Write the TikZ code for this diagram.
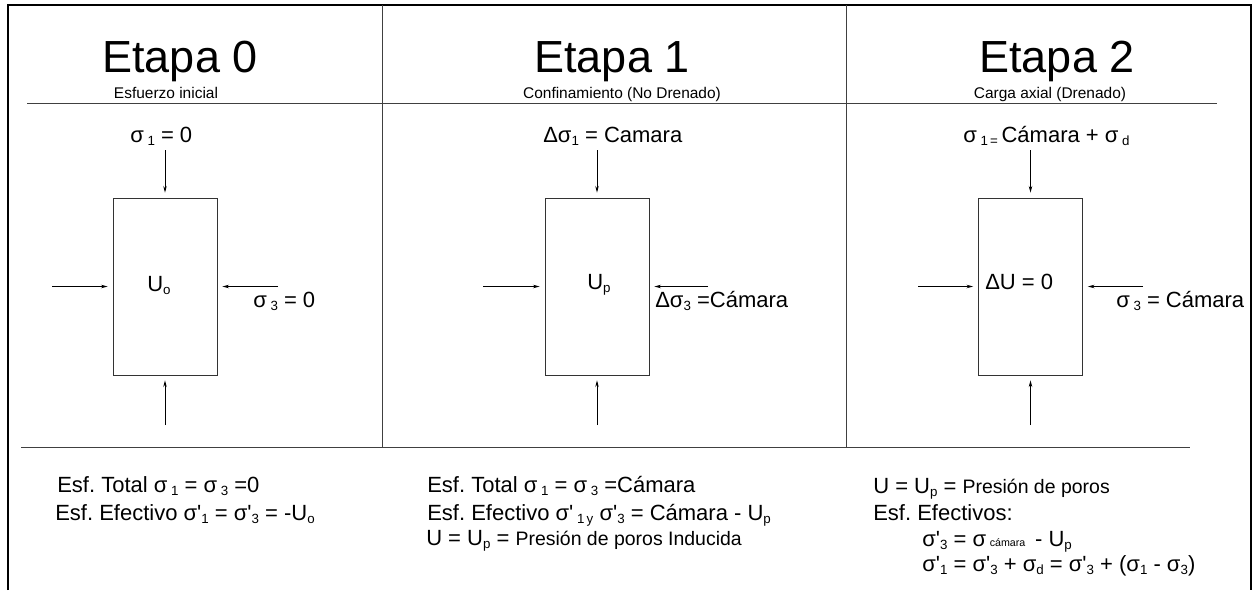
\documentclass[tikz,border=0pt]{standalone}
\usepackage{fontspec}
\setmainfont{Liberation Sans}
\usetikzlibrary{arrows.meta}

\newcommand{\ind}[1]{\raisebox{-0.3ex}{\fontsize{10}{12}\selectfont #1}}
\newcommand{\pr}{\textquotesingle}
\frenchspacing

\tikzset{
	marco/.style={line width=1.9pt},
	linea/.style={line width=0.7pt, black!75},
	caja/.style={draw, line width=0.7pt, black!80, minimum width=78pt, minimum height=132.75pt, inner sep=0pt, outer sep=0pt},
	flecha/.style={line width=0.6pt, -{Stealth[length=5pt,width=2.6pt]}, shorten >=4pt},
	titulo/.style={anchor=base, inner sep=0pt, font=\fontsize{33.75}{40}\selectfont},
	subtitulo/.style={anchor=base, inner sep=0pt, font=\fontsize{11.6}{14}\selectfont},
	etiqueta/.style={anchor=base west, inner sep=0pt, font=\fontsize{16.5}{20}\selectfont}
}

\begin{document}
\begin{tikzpicture}[x=0.75pt, y=-0.75pt]
	\useasboundingbox (0,0) rectangle (1258,590);

	\draw [marco] (8,590) -- (8,5) -- (1251,5) -- (1251,590);
	\draw [linea] (382,5) -- (382,447);
	\draw [linea] (846,5) -- (846,447);
	\draw [linea] (27,103) -- (1217,103);
	\draw [linea] (21,447) -- (1190,447);

	\node [titulo] (t0) at (180,72) {Etapa 0};
	\node [subtitulo] (s0) at (166,98) {Esfuerzo inicial};
	\node [titulo] (t1) at (612,72) {Etapa 1};
	\node [subtitulo] (s1) at (622,98) {Confinamiento (No Drenado)};
	\node [titulo] (t2) at (1057,72) {Etapa 2};
	\node [subtitulo] (s2) at (1050,98) {Carga axial (Drenado)};

	\node [caja] (caja0) at (165,286.5) {};
	\coordinate (arriba0) at (165,150);
	\coordinate (abajo0) at (165,425);
	\coordinate (izq0) at (52,286.5);
	\coordinate (der0) at (278,286.5);
	\draw [flecha] (arriba0) -- (caja0.north);
	\draw [flecha] (abajo0) -- (caja0.south);
	\draw [flecha] (izq0) -- (caja0.west);
	\draw [flecha] (der0) -- (caja0.east);
	\node [etiqueta] (sig1a) at (130,142) {σ\,\ind{1} = 0};
	\node [etiqueta] (u0) at (147,291) {U\ind{o}};
	\node [etiqueta] (sig3a) at (253,307) {σ\,\ind{3} = 0};

	\node [caja] (caja1) at (597,286.5) {};
	\coordinate (arriba1) at (597,150);
	\coordinate (abajo1) at (597,425);
	\coordinate (izq1) at (483,286.5);
	\coordinate (der1) at (708,286.5);
	\draw [flecha] (arriba1) -- (caja1.north);
	\draw [flecha] (abajo1) -- (caja1.south);
	\draw [flecha] (izq1) -- (caja1.west);
	\draw [flecha] (der1) -- (caja1.east);
	\node [etiqueta] (sig1b) at (543,142) {Δσ\ind{1} = Camara};
	\node [etiqueta] (u1) at (587,289) {U\ind{p}};
	\node [etiqueta] (sig3b) at (655,307) {Δσ\ind{3} =Cámara};

	\node [caja] (caja2) at (1030.5,286.5) {};
	\coordinate (arriba2) at (1030.5,150);
	\coordinate (abajo2) at (1030.5,425);
	\coordinate (izq2) at (918,286.5);
	\coordinate (der2) at (1143,286.5);
	\draw [flecha] (arriba2) -- (caja2.north);
	\draw [flecha] (abajo2) -- (caja2.south);
	\draw [flecha] (izq2) -- (caja2.west);
	\draw [flecha] (der2) -- (caja2.east);
	\node [etiqueta] (sig1c) at (963,142) {σ\,\ind{1\,=}\,Cámara + σ\,\ind{d}};
	\node [etiqueta] (u2) at (985,289) {ΔU = 0};
	\node [etiqueta] (sig3c) at (1116,307) {σ\,\ind{3} = Cámara};

	\node [etiqueta] (e0a) at (57,492) {Esf. Total σ\,\ind{1} = σ\,\ind{3} =0};
	\node [etiqueta] (e0b) at (55,520) {Esf. Efectivo σ\pr\ind{1} = σ\pr\ind{3} = -U\ind{o}};

	\node [etiqueta] (e1a) at (427,492) {Esf. Total σ\,\ind{1} = σ\,\ind{3} =Cámara};
	\node [etiqueta] (e1b) at (427,520) {Esf. Efectivo σ\pr\,\ind{1\,y} σ\pr\ind{3} = Cámara - U\ind{p}};
	\node [etiqueta] (e1c) at (426,545) {U = U\ind{p} = {\fontsize{14.6}{18}\selectfont Presión de poros Inducida}};

	\node [etiqueta] (e2a) at (873,493) {U = U\ind{p} = {\fontsize{14.6}{18}\selectfont Presión de poros}};
	\node [etiqueta] (e2b) at (873,520) {Esf. Efectivos:};
	\node [etiqueta] (e2c) at (922,546) {σ\pr\ind{3} = σ\,{\fontsize{8}{10}\selectfont cámara}\, - U\ind{p}};
	\node [etiqueta] (e2d) at (922,571) {σ\pr\ind{1} = σ\pr\ind{3} + σ\ind{d} = σ\pr\ind{3} + (σ\ind{1} - σ\ind{3})};
\end{tikzpicture}
\end{document}
